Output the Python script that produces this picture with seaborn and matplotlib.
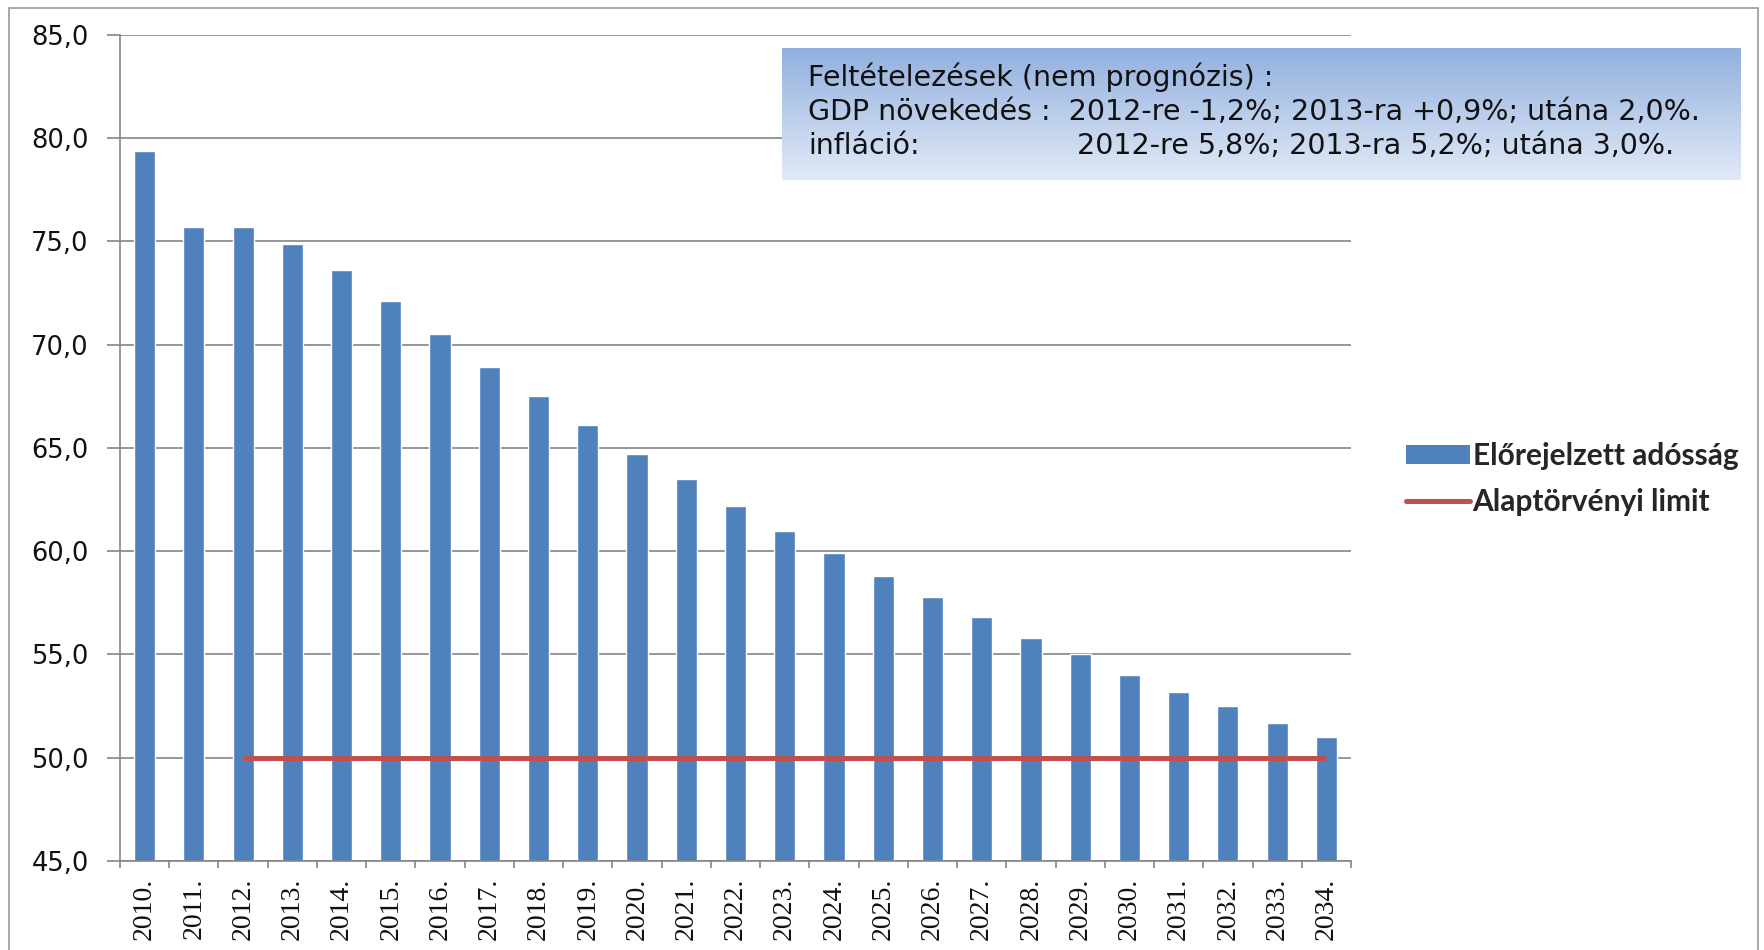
import numpy as np
import pandas as pd
import matplotlib
matplotlib.use("Agg")
import matplotlib.pyplot as plt
import seaborn as sns
from matplotlib.patches import Patch, Rectangle
from matplotlib.lines import Line2D
from matplotlib.ticker import FixedLocator, FuncFormatter

# --- data -------------------------------------------------------------
years = ["2010.", "2011.", "2012.", "2013.", "2014.", "2015.", "2016.", "2017.",
         "2018.", "2019.", "2020.", "2021.", "2022.", "2023.", "2024.", "2025.",
         "2026.", "2027.", "2028.", "2029.", "2030.", "2031.", "2032.", "2033.",
         "2034."]
debt = [79.4, 75.7, 75.7, 74.9, 73.6, 72.1, 70.5, 68.9, 67.5, 66.1, 64.7, 63.5,
        62.2, 61.0, 59.9, 58.8, 57.8, 56.8, 55.8, 55.0, 54.0, 53.2, 52.5, 51.7,
        51.0]
limit_value = 50.0
limit_from, limit_to = "2012.", "2034."
y_ticks = [45, 50, 55, 60, 65, 70, 75, 80, 85]

bar_label = "Előrejelzett adósság"
line_label = "Alaptörvényi limit"
box_title = "Feltételezések (nem prognózis) :"
box_gdp = "GDP növekedés :  2012-re -1,2%; 2013-ra +0,9%; utána 2,0%."
box_infl_head = "infláció:"
box_infl = "2012-re 5,8%; 2013-ra 5,2%; utána 3,0%."

BAR = "#4F81BD"
RED = "#C0504D"
GRID = "#858585"

# --- figure -----------------------------------------------------------
sns.set_theme(style="white")
plt.rcParams["font.family"] = ["DejaVu Sans"]

W, H = 1764, 950
fig = plt.figure(figsize=(W / 100, H / 100), dpi=100)
fig.patch.set_facecolor("white")

# outer frame of the chart area
fig.add_artist(Rectangle((9 / W, -0.02), (1758 - 9) / W, 1.02 - 8 / H,
                         transform=fig.transFigure, fill=False,
                         edgecolor="#9a9a9a", lw=1.2))

ax = fig.add_axes([120 / W, 1 - 861 / H, (1351 - 120) / W, (861 - 35) / H])

df = pd.DataFrame({"year": years, "debt": debt})
sns.barplot(data=df, x="year", y="debt", order=years, color=BAR,
            saturation=1, width=0.43, ax=ax, zorder=2)

i0, i1 = years.index(limit_from), years.index(limit_to)
ax.plot([i0, i1], [limit_value, limit_value], color=RED, lw=3.6,
        solid_capstyle="butt", zorder=3)

ax.set_xlim(-0.5, len(years) - 0.5)
ax.set_ylim(y_ticks[0], y_ticks[-1])
ax.set_xlabel("")
ax.set_ylabel("")

ax.yaxis.set_major_locator(FixedLocator(y_ticks))
ax.yaxis.set_major_formatter(FuncFormatter(lambda v, _: f"{v:.1f}".replace(".", ",")))
ax.yaxis.grid(True, color=GRID, lw=1.2)
ax.set_axisbelow(True)

ax.set_xticks(range(len(years)))
ax.set_xticklabels(years)
ax.xaxis.set_minor_locator(FixedLocator(np.arange(-0.5, len(years), 1.0)))
ax.tick_params(axis="x", which="major", length=0, pad=12, labelsize=20,
               labelrotation=90, labelcolor="#111111",
               labelfontfamily="Liberation Serif")
ax.tick_params(axis="x", which="minor", length=5, width=1.2, color=GRID,
               direction="out", bottom=True)
ax.tick_params(axis="y", which="major", length=9.5, width=1.2, color=GRID,
               direction="out", left=True, labelsize=18.5, pad=13,
               labelcolor="#111111")

for side in ("top", "right"):
    ax.spines[side].set_visible(False)
for side in ("left", "bottom"):
    ax.spines[side].set_color(GRID)
    ax.spines[side].set_linewidth(1.2)

# --- legend -----------------------------------------------------------
handles = [Patch(facecolor=BAR, edgecolor="none", label=bar_label),
           Line2D([0], [0], color=RED, lw=3.6, label=line_label)]
fig.legend(handles=handles, loc="center left",
           bbox_to_anchor=(1391 / W, 1 - 479 / H), frameon=False,
           prop={"family": "Lato", "weight": "bold", "size": 21.5},
           handlelength=2.15, handleheight=0.6, handletextpad=0.08,
           labelspacing=0.62, borderpad=0)

# --- assumptions box with vertical gradient --------------------------
bx0, by0, bx1, by1 = 782, 48, 1741, 180
bax = fig.add_axes([bx0 / W, 1 - by1 / H, (bx1 - bx0) / W, (by1 - by0) / H])
top = np.array([146, 176, 223]) / 255
bottom = np.array([226, 234, 247]) / 255
t = np.linspace(0, 1, 256)[:, None]
grad = top[None, None, :] * (1 - t[..., None]) + bottom[None, None, :] * t[..., None]
grad = np.repeat(grad, 2, axis=1)
bax.imshow(grad, aspect="auto", extent=(0, 1, 0, 1), origin="upper")
bax.set_xlim(0, 1)
bax.set_ylim(0, 1)
bax.axis("off")

bw, bh = bx1 - bx0, by1 - by0
def bx(px):
    return (px - bx0) / bw
def by(py):
    return 1 - (py - by0) / bh

tk = dict(fontsize=20.5, color="#111111", va="center", ha="left",
          transform=bax.transAxes)
bax.text(bx(808), by(77), box_title, **tk)
bax.text(bx(808), by(112), box_gdp, **tk)
bax.text(bx(808), by(146), box_infl_head, **tk)
bax.text(bx(1077), by(146), box_infl, **tk)

fig.savefig("out.png", dpi=100, facecolor="white")
